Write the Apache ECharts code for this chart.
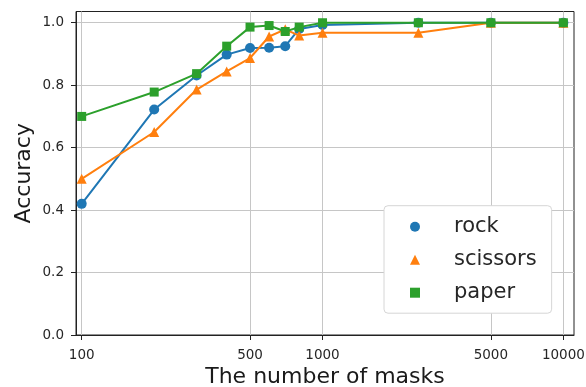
<!DOCTYPE html>
<html>
<head>
<meta charset="utf-8">
<script src="https://cdn.jsdelivr.net/npm/echarts@6/dist/echarts.min.js"></script>
<style>
  html, body { margin: 0; padding: 0; background: #fff; }
  #chart { width: 586px; height: 387px; }
</style>
</head>
<body>
<div id="chart"></div>
<script>
// Number of masks used for each run (log-scaled x axis)
const masks = [100, 200, 300, 400, 500, 600, 700, 800, 1000, 2500, 5000, 10000];

// Accuracy per class
const rock     = [0.42, 0.722, 0.831, 0.898, 0.919, 0.920, 0.925, 0.980, 0.993, 1.0, 1.0, 1.0];
const scissors = [0.50, 0.650, 0.786, 0.844, 0.887, 0.956, 0.979, 0.959, 0.968, 0.968, 1.0, 1.0];
const paper    = [0.70, 0.778, 0.837, 0.925, 0.986, 0.991, 0.972, 0.986, 1.0, 1.0, 1.0, 1.0];

// Tick labels
const xTicks = [100, 500, 1000, 5000, 10000];
const yTicks = [0, 0.2, 0.4, 0.6, 0.8, 1.0];

const FONT = 'DejaVu Sans';
const INK = '#262626';

function pairs(vals) {
  return masks.map((m, i) => [m, vals[i]]);
}

function lineSeries(name, vals, color, symbol, size, z) {
  return {
    name: name,
    type: 'line',
    data: pairs(vals),
    z: z,
    symbol: symbol,
    symbolSize: size,
    showAllSymbol: true,
    showSymbol: true,
    animation: false,
    lineStyle: { color: color, width: 2 },
    itemStyle: { color: color, borderWidth: 0 },
    emphasis: { disabled: true }
  };
}

const chart = echarts.init(document.getElementById('chart'), null, { renderer: 'canvas' });

chart.setOption({
  animation: false,
  backgroundColor: '#ffffff',
  grid: {
    left: 76, right: 12, top: 11.5, bottom: 52,
    outerBoundsMode: 'none',
    containLabel: false,
    show: true, borderColor: '#222', borderWidth: 1,
    backgroundColor: 'transparent'
  },
  xAxis: {
    type: 'log',
    logBase: 10,
    min: 94.7,
    max: 11070,
    name: 'The number of masks',
    nameLocation: 'middle',
    nameGap: 31,
    nameMoveOverlap: false,
    nameTextStyle: { fontFamily: FONT, fontSize: 22, color: '#1a1a1a' },
    axisLine: { show: true, onZero: false, lineStyle: { color: '#222', width: 1 } },
    axisTick: { show: true, length: 5, lineStyle: { color: '#222' }, customValues: xTicks },
    axisLabel: {
      customValues: xTicks,
      fontFamily: FONT, fontSize: 13.5, color: INK, margin: 13,
      formatter: v => String(Math.round(v))
    },
    splitLine: { show: true, lineStyle: { color: '#c6c6c6', width: 1 } },
    minorTick: { show: false },
    minorSplitLine: { show: false }
  },
  yAxis: {
    type: 'value',
    min: 0,
    max: 1.036,
    interval: 0.2,
    name: 'Accuracy',
    nameLocation: 'middle',
    nameGap: 41,
    nameMoveOverlap: false,
    nameTextStyle: { fontFamily: FONT, fontSize: 22, color: '#1a1a1a' },
    axisLine: { show: true, onZero: false, lineStyle: { color: '#222', width: 1 } },
    axisTick: { show: true, length: 5, lineStyle: { color: '#222' }, customValues: yTicks },
    axisLabel: {
      customValues: yTicks,
      fontFamily: FONT, fontSize: 13.5, color: INK, margin: 12,
      formatter: v => v.toFixed(1)
    },
    splitLine: { show: true, lineStyle: { color: '#c6c6c6', width: 1 } }
  },
  legend: {
    orient: 'vertical',
    left: 384,
    top: 205.7,
    padding: [10.5, 15, 10, 26],
    itemWidth: 10,
    itemHeight: 10,
    itemGap: 12,
    backgroundColor: '#ffffff',
    borderColor: '#d6d6d6',
    borderWidth: 1,
    borderRadius: 4,
    selectedMode: false,
    textStyle: {
      fontFamily: FONT, fontSize: 21, lineHeight: 21, color: INK,
      padding: [0, 0, 0, 29]
    },
    data: [
      { name: 'rock', icon: 'circle' },
      { name: 'scissors', icon: 'triangle' },
      { name: 'paper', icon: 'rect' }
    ]
  },
  series: [
    lineSeries('rock', rock, '#1f77b4', 'circle', 10, 2),
    lineSeries('scissors', scissors, '#ff7f0e', 'triangle', 10, 3),
    lineSeries('paper', paper, '#2ca02c', 'rect', 9, 4)
  ]
});
</script>
</body>
</html>
